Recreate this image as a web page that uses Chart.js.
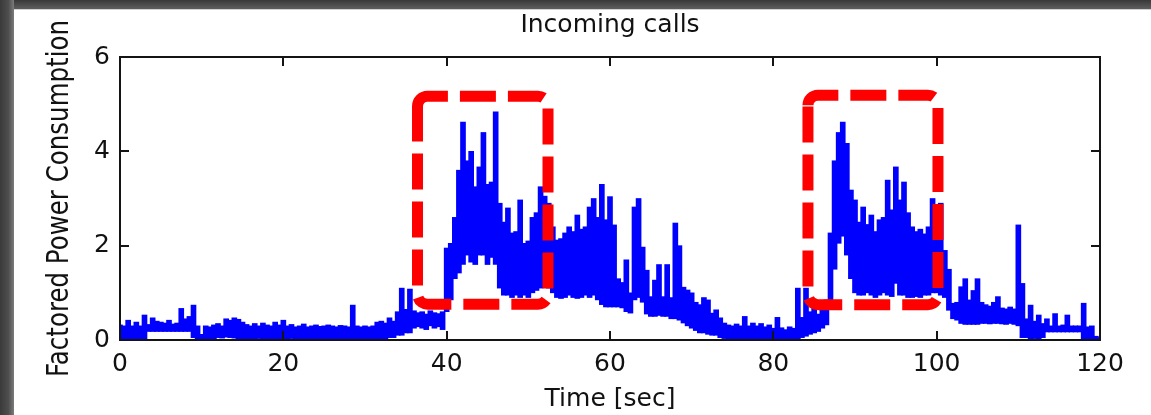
<!DOCTYPE html>
<html><head><meta charset="utf-8">
<script src="https://cdn.jsdelivr.net/npm/chart.js@4.4.1/dist/chart.umd.min.js"></script>
<style>
html,body{margin:0;padding:0;background:#fff;}
#wrap{position:relative;width:1151px;height:415px;overflow:hidden;background:#fff;}
#c{position:absolute;left:0;top:0;}
.ft{position:absolute;left:0;top:0;width:1151px;height:9px;background:linear-gradient(#383838,#5e5e5e);}
.ftl{position:absolute;left:0;top:9px;width:1151px;height:1px;background:#d0d0d0;}
.fl{position:absolute;left:0;top:0;width:14px;height:415px;background:linear-gradient(to right,#3a3a3a,#4e4e4e 60%,#7c7c7c);}
</style></head><body>
<div id="wrap"><canvas id="c" width="1151" height="415"></canvas><div class="ft"></div><div class="ftl"></div><div class="fl"></div></div>
<script>
// ---- data ----
const chartTitle = 'Incoming calls';
const xAxisTitle = 'Time [sec]';
const yAxisTitle = 'Factored Power Consumption';
const xTickValues = [0, 20, 40, 60, 80, 100, 120];
const yTickValues = [0, 2, 4, 6];
const sampleStep = 0.5; // seconds between envelope samples

// upper envelope of the signal, one value every 0.5 s from 0 to 120 s
const upperEnvelope = [
  0.32,0.30,0.42,0.30,0.38,0.30,0.53,0.33,0.47,0.40,
  0.38,0.36,0.42,0.34,0.36,0.67,0.45,0.50,0.74,0.30,
  0.12,0.30,0.28,0.32,0.35,0.30,0.45,0.42,0.47,0.44,
  0.38,0.33,0.30,0.35,0.30,0.36,0.32,0.30,0.38,0.32,
  0.42,0.30,0.33,0.28,0.30,0.34,0.28,0.30,0.32,0.29,
  0.30,0.32,0.30,0.28,0.31,0.30,0.28,0.74,0.30,0.28,
  0.30,0.28,0.30,0.38,0.40,0.36,0.47,0.40,0.60,1.10,
  0.65,1.08,0.62,0.58,0.60,0.55,0.62,0.58,0.56,0.60,
  1.95,2.05,2.60,3.60,4.62,3.80,4.00,3.25,3.67,4.40,
  3.30,3.35,4.84,2.90,2.50,2.80,2.27,2.30,2.97,2.05,
  2.10,2.60,2.70,3.25,3.05,2.90,2.40,2.12,2.15,2.27,
  2.40,2.30,2.65,2.35,2.40,2.82,3.00,2.60,3.30,2.55,
  3.04,2.44,1.30,1.22,1.70,1.00,2.82,3.00,1.97,1.48,
  0.92,1.27,1.60,0.92,1.60,0.90,2.48,2.00,1.12,1.06,
  1.00,0.80,0.75,0.90,0.85,0.57,0.64,0.47,0.36,0.32,
  0.30,0.34,0.30,0.50,0.30,0.36,0.30,0.35,0.28,0.32,
  0.25,0.48,0.26,0.22,0.28,0.25,1.10,0.48,1.10,0.60,
  0.70,0.55,0.65,0.85,2.27,3.80,4.40,4.62,4.17,3.18,
  2.97,2.50,2.82,2.45,2.65,2.30,2.55,2.60,3.39,2.76,
  3.67,2.97,3.35,2.70,2.40,2.30,2.35,2.25,2.40,3.00,
  2.80,2.90,1.90,1.50,0.78,0.80,1.13,1.30,0.85,1.05,
  1.30,0.80,0.75,0.72,0.80,0.92,0.68,0.66,0.70,0.66,
  2.44,1.20,0.45,0.74,0.40,0.53,0.35,0.45,0.30,0.56,
  0.30,0.32,0.53,0.30,0.30,0.30,0.78,0.28,0.30,0.08,
  0.05
];
// lower envelope of the signal, same sampling
const lowerEnvelope = [
  0.02,0.00,0.00,0.00,0.00,0.00,0.00,0.18,0.18,0.18,
  0.18,0.18,0.18,0.18,0.18,0.18,0.18,0.18,0.05,0.00,
  0.00,0.00,0.02,0.00,0.05,0.04,0.06,0.05,0.04,0.02,
  0.00,0.02,0.00,0.00,0.03,0.00,0.00,0.00,0.00,0.00,
  0.00,0.00,0.03,0.00,0.00,0.00,0.00,0.00,0.02,0.00,
  0.00,0.00,0.00,0.00,0.00,0.00,0.00,0.00,0.00,0.00,
  0.00,0.00,0.00,0.00,0.02,0.00,0.05,0.05,0.10,0.10,
  0.15,0.15,0.25,0.28,0.25,0.22,0.30,0.25,0.28,0.22,
  0.60,0.85,1.30,1.42,1.60,1.80,1.65,1.60,1.80,1.80,
  1.60,1.75,1.60,1.10,0.95,0.95,0.90,0.95,0.90,0.95,
  0.90,1.00,1.05,1.10,1.12,1.10,1.00,0.90,0.88,0.90,
  0.95,0.90,0.88,0.90,0.95,0.90,0.95,0.85,0.75,0.70,
  0.70,0.70,0.70,0.68,0.60,0.57,0.85,0.90,0.80,0.55,
  0.50,0.50,0.52,0.50,0.50,0.45,0.45,0.42,0.36,0.30,
  0.25,0.20,0.15,0.15,0.12,0.10,0.10,0.05,0.03,0.00,
  0.00,0.00,0.00,0.00,0.00,0.00,0.00,0.00,0.00,0.00,
  0.00,0.00,0.00,0.00,0.00,0.00,0.00,0.05,0.08,0.12,
  0.15,0.18,0.25,0.32,0.85,1.50,2.05,2.20,1.80,1.30,
  1.00,0.95,0.95,1.00,0.95,0.90,0.95,1.00,0.95,0.92,
  1.20,0.95,0.95,0.90,0.90,0.92,0.90,0.95,0.95,1.00,
  1.00,0.95,0.90,0.63,0.45,0.42,0.35,0.33,0.33,0.33,
  0.33,0.35,0.35,0.34,0.35,0.35,0.34,0.33,0.35,0.33,
  0.30,0.05,0.05,0.02,0.03,0.00,0.05,0.17,0.17,0.17,
  0.17,0.17,0.17,0.17,0.17,0.17,0.00,0.00,0.00,0.00,
  0.00
];
// highlighted regions (data units)
const highlightStart = [36.43, 84.24];
const highlightEnd   = [52.41, 100.16];
const highlightLow   = [0.76, 0.75];
const highlightHigh  = [5.17, 5.19];

// ---- build ----
const bandPts = upperEnvelope.map((v, i) => ({x: i * sampleStep, y: [lowerEnvelope[i], v]}));
const FONT = 'DejaVu Sans';
const TXT = '#111';

const matlabFrame = {
  id: 'matlabFrame',
  afterDatasetsDraw(chart) {
    const {ctx, chartArea: a, scales: {x, y}} = chart;
    ctx.save();
    // axes box + inward ticks
    ctx.strokeStyle = '#141414';
    ctx.lineWidth = 2;
    ctx.strokeRect(a.left, a.top, a.right - a.left, a.bottom - a.top);
    ctx.beginPath();
    x.ticks.forEach(t => {
      const p = Math.round(x.getPixelForValue(t.value));
      ctx.moveTo(p, a.bottom); ctx.lineTo(p, a.bottom - 9);
      ctx.moveTo(p, a.top); ctx.lineTo(p, a.top + 9);
    });
    y.ticks.forEach(t => {
      const p = Math.round(y.getPixelForValue(t.value));
      ctx.moveTo(a.left, p); ctx.lineTo(a.left + 9, p);
      ctx.moveTo(a.right, p); ctx.lineTo(a.right - 9, p);
    });
    ctx.stroke();

    // red dashed rounded highlight boxes
    ctx.strokeStyle = '#ff0000';
    ctx.lineWidth = 11;
    ctx.lineCap = 'butt';
    ctx.setLineDash([36, 12]);
    const r = 10;
    for (let i = 0; i < highlightStart.length; i++) {
      const x0 = x.getPixelForValue(highlightStart[i]);
      const x1 = x.getPixelForValue(highlightEnd[i]);
      const y0 = y.getPixelForValue(highlightHigh[i]);
      const y1 = y.getPixelForValue(highlightLow[i]);
      ctx.beginPath();
      ctx.moveTo(x0, y0 + r);
      ctx.arcTo(x0, y0, x0 + r, y0, r);
      ctx.lineTo(x1 - r, y0);
      ctx.arcTo(x1, y0, x1, y0 + r, r);
      ctx.lineTo(x1, y1 - r);
      ctx.arcTo(x1, y1, x1 - r, y1, r);
      ctx.lineTo(x0 + r, y1);
      ctx.arcTo(x0, y1, x0, y1 - r, r);
      ctx.closePath();
      ctx.stroke();
    }
    ctx.setLineDash([]);

    // chart title, centred over the plot
    ctx.fillStyle = TXT;
    ctx.font = '25px "' + FONT + '"';
    ctx.textAlign = 'center';
    ctx.textBaseline = 'middle';
    ctx.fillText(chartTitle, (a.left + a.right) / 2, 25);

    // rotated y-axis title
    ctx.font = '24.5px "' + FONT + '"';
    ctx.translate(60, (a.top + a.bottom) / 2);
    ctx.scale(1.25, 1);
    ctx.rotate(-Math.PI / 2);
    ctx.fillText(yAxisTitle, 0, 0);
    ctx.restore();
  }
};

new Chart(document.getElementById('c'), {
  type: 'bar',
  data: {
    datasets: [
      {label: 'signal', data: bandPts, backgroundColor: '#0000ff', borderWidth: 0,
       barThickness: 5, grouped: false}
    ]
  },
  options: {
    responsive: false,
    animation: false,
    devicePixelRatio: 1,
    layout: {padding: {top: 57, right: 51, bottom: 1, left: 0}},
    plugins: {
      legend: {display: false},
      tooltip: {enabled: false},
      title: {display: false}
    },
    scales: {
      x: {
        type: 'linear', min: 0, max: 120, offset: false,
        afterFit: s => { s.height = 74; },
        afterBuildTicks: s => { s.ticks = xTickValues.map(v => ({value: v})); },
        grid: {display: false, drawTicks: false, offset: false},
        border: {display: false},
        ticks: {color: TXT, font: {family: FONT, size: 25, lineHeight: 1.2}, padding: 9,
                maxRotation: 0, autoSkip: false},
        title: {display: true, text: xAxisTitle, color: TXT,
                font: {family: FONT, size: 25, lineHeight: 1.2}, padding: {top: 0, bottom: 0}}
      },
      y: {
        type: 'linear', min: 0, max: 6,
        afterFit: s => { s.width = 120; },
        afterBuildTicks: s => { s.ticks = yTickValues.map(v => ({value: v})); },
        grid: {display: false, drawTicks: false},
        border: {display: false},
        ticks: {color: TXT, font: {family: FONT, size: 25, lineHeight: 1.2}, padding: 10},
        title: {display: false}
      }
    }
  },
  plugins: [matlabFrame]
});
</script>
</body></html>
